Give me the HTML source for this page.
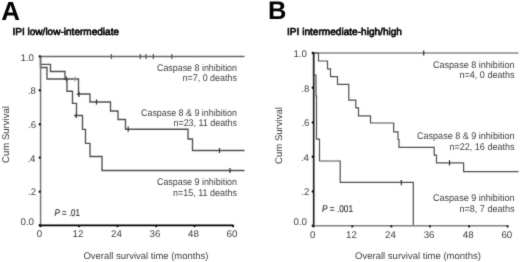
<!DOCTYPE html>
<html><head><meta charset="utf-8"><style>
html,body{margin:0;padding:0;background:#fff;}
svg{display:block;font-family:"Liberation Sans", sans-serif;will-change:transform;text-rendering:geometricPrecision;}
</style></head><body>
<svg width="520" height="262" viewBox="0 0 520 262">
<defs><filter id="sf" x="0" y="0" width="520" height="262" filterUnits="userSpaceOnUse"><feConvolveMatrix order="3" kernelMatrix="0.02 0.08 0.02 0.08 0.6 0.08 0.02 0.08 0.02" edgeMode="none"/></filter></defs>
<rect width="520" height="262" fill="#fff"/>
<g filter="url(#sf)">
<path d="M40.5 56.5 H244.5" fill="none" stroke="#666" stroke-width="1.35"/>
<path d="M111.3 53.9 V59.1" stroke="#555" stroke-width="1.25"/>
<path d="M140.3 53.9 V59.1" stroke="#555" stroke-width="1.25"/>
<path d="M146 53.9 V59.1" stroke="#555" stroke-width="1.25"/>
<path d="M153.3 53.9 V59.1" stroke="#555" stroke-width="1.25"/>
<path d="M171.8 53.9 V59.1" stroke="#555" stroke-width="1.25"/>
<path d="M40.5 56.5 V64.3 H50.5 V71.5 H65 V79 H78.5 V94 H90 V102 H110.5 V111 H118 V119.5 H125.5 V129.2 H188 V139 H192.5 V150.5 H244.5" fill="none" stroke="#505050" stroke-width="1.35"/>
<path d="M66.5 76.4 V81.6 M64.2 79 H66.5" stroke="#333" stroke-width="1.25"/>
<path d="M75 76.4 V81.6" stroke="#999" stroke-width="1.25"/>
<path d="M79 91.7 V96.89999999999999 M76.7 94.3 H79" stroke="#333" stroke-width="1.25"/>
<path d="M96.5 99.4 V104.6" stroke="#333" stroke-width="1.25"/>
<path d="M128.2 126.6 V131.79999999999998" stroke="#333" stroke-width="1.25"/>
<path d="M219.5 147.9 V153.1" stroke="#333" stroke-width="1.25"/>
<path d="M40.5 56.5 V67.5 H47 V79 H67 V91.2 H72.5 V103.3 H76.5 V115.5 H82.5 V129.3 H85.5 V143.3 H90 V156.5 H102 V170.5 H244.5" fill="none" stroke="#505050" stroke-width="1.35"/>
<path d="M76.3 112.9 V118.1 M74.0 115.5 H76.3" stroke="#333" stroke-width="1.25"/>
<path d="M230 167.9 V173.1" stroke="#333" stroke-width="1.25"/>
<path d="M40.6 55.7 V225.9" fill="none" stroke="#777" stroke-width="1.5"/>
<path d="M40.1 225.4 H233.5" fill="none" stroke="#000" stroke-width="1.7"/>
<rect x="38.6" y="55.3" width="2.4" height="2.4" rx="1.1" fill="#111"/>
<rect x="38.6" y="89.1" width="2.4" height="2.4" rx="1.1" fill="#111"/>
<rect x="38.6" y="123.1" width="2.4" height="2.4" rx="1.1" fill="#111"/>
<rect x="38.6" y="156.4" width="2.4" height="2.4" rx="1.1" fill="#111"/>
<rect x="38.6" y="190.5" width="2.4" height="2.4" rx="1.1" fill="#111"/>
<rect x="38.6" y="224.0" width="2.4" height="2.4" rx="1.1" fill="#111"/>
<rect x="39.4" y="225.0" width="2.3" height="2.3" rx="1.1" fill="#111"/>
<rect x="77.9" y="225.0" width="2.3" height="2.3" rx="1.1" fill="#111"/>
<rect x="116.4" y="225.0" width="2.3" height="2.3" rx="1.1" fill="#111"/>
<rect x="154.9" y="225.0" width="2.3" height="2.3" rx="1.1" fill="#111"/>
<rect x="193.4" y="225.0" width="2.3" height="2.3" rx="1.1" fill="#111"/>
<rect x="231.9" y="225.0" width="2.3" height="2.3" rx="1.1" fill="#111"/>
<path d="M313.5 53 H518.5" fill="none" stroke="#505050" stroke-width="1.2"/>
<path d="M423.7 50.4 V55.6" stroke="#333" stroke-width="1.25"/>
<path d="M313.5 53 H318.5 V61 H327.5 V68.8 H330.5 V76.7 H337.5 V84.3 H348.8 V100.2 H355.8 V107.8 H358.5 V115.9 H370.5 V123 H393.7 V131.8 H398 V139.5 H399 V147.3 H434.2 V155.2 H436.5 V162.8 H463.6 V171.6 H518.5" fill="none" stroke="#505050" stroke-width="1.2"/>
<path d="M449.5 160.20000000000002 V165.4" stroke="#333" stroke-width="1.25"/>
<path d="M313.5 53 V75 H316 V96 H316.5 V139.2 H319.5 V161 H340.2 V182.4 H413.3 V225.5" fill="none" stroke="#505050" stroke-width="1.2"/>
<path d="M401.3 180.0 V185.2" stroke="#333" stroke-width="1.25"/>
<path d="M313.7 52.2 V226.2" fill="none" stroke="#222" stroke-width="1.7"/>
<path d="M313.2 225.7 H508.0" fill="none" stroke="#808080" stroke-width="1.5"/>
<rect x="311.6" y="51.8" width="2.4" height="2.4" rx="1.1" fill="#111"/>
<rect x="311.6" y="86.55" width="2.4" height="2.4" rx="1.1" fill="#111"/>
<rect x="311.6" y="121.3" width="2.4" height="2.4" rx="1.1" fill="#111"/>
<rect x="311.6" y="155.60000000000002" width="2.4" height="2.4" rx="1.1" fill="#111"/>
<rect x="311.6" y="190.3" width="2.4" height="2.4" rx="1.1" fill="#111"/>
<rect x="311.6" y="224.4" width="2.4" height="2.4" rx="1.1" fill="#111"/>
<rect x="312.4" y="225.29999999999998" width="2.3" height="2.3" rx="1.1" fill="#111"/>
<rect x="351.09999999999997" y="225.29999999999998" width="2.3" height="2.3" rx="1.1" fill="#111"/>
<rect x="390.2" y="225.29999999999998" width="2.3" height="2.3" rx="1.1" fill="#111"/>
<rect x="428.79999999999995" y="225.29999999999998" width="2.3" height="2.3" rx="1.1" fill="#111"/>
<rect x="467.9" y="225.29999999999998" width="2.3" height="2.3" rx="1.1" fill="#111"/>
<rect x="506.5" y="225.29999999999998" width="2.3" height="2.3" rx="1.1" fill="#111"/>
<text x="1.2" y="19.6" font-size="26" text-anchor="start" font-weight="bold" font-style="normal" fill="#000" >A</text>
<text x="268" y="19.0" font-size="25.5" text-anchor="start" font-weight="bold" font-style="normal" fill="#000" >B</text>
<text x="12.5" y="35" font-size="10" text-anchor="start" font-weight="normal" font-style="normal" fill="#000" textLength="106.5" lengthAdjust="spacingAndGlyphs" stroke="#000" stroke-width="0.6">IPI low/low-intermediate</text>
<text x="287" y="34.6" font-size="10" text-anchor="start" font-weight="normal" font-style="normal" fill="#000" textLength="115" lengthAdjust="spacingAndGlyphs" stroke="#000" stroke-width="0.6">IPI intermediate-high/high</text>
<text x="34" y="60.75" font-size="9.7" text-anchor="end" font-weight="normal" font-style="normal" fill="#404040" >1.0</text>
<text x="36" y="93.75" font-size="9.7" text-anchor="end" font-weight="normal" font-style="normal" fill="#404040" >.8</text>
<text x="36.2" y="127.75" font-size="9.7" text-anchor="end" font-weight="normal" font-style="normal" fill="#404040" >.6</text>
<text x="35.5" y="161.75" font-size="9.7" text-anchor="end" font-weight="normal" font-style="normal" fill="#404040" >.4</text>
<text x="36.2" y="195" font-size="9.7" text-anchor="end" font-weight="normal" font-style="normal" fill="#404040" >.2</text>
<text x="34" y="224.75" font-size="9.7" text-anchor="end" font-weight="normal" font-style="normal" fill="#404040" >0.0</text>
<text x="307" y="56.75" font-size="9.7" text-anchor="end" font-weight="normal" font-style="normal" fill="#404040" >1.0</text>
<text x="309.3" y="91.75" font-size="9.7" text-anchor="end" font-weight="normal" font-style="normal" fill="#404040" >.8</text>
<text x="309.5" y="125.75" font-size="9.7" text-anchor="end" font-weight="normal" font-style="normal" fill="#404040" >.6</text>
<text x="309" y="160.75" font-size="9.7" text-anchor="end" font-weight="normal" font-style="normal" fill="#404040" >.4</text>
<text x="309.3" y="194.75" font-size="9.7" text-anchor="end" font-weight="normal" font-style="normal" fill="#404040" >.2</text>
<text x="307" y="224.75" font-size="9.7" text-anchor="end" font-weight="normal" font-style="normal" fill="#404040" >0.0</text>
<text x="39.4" y="237.1" font-size="9.7" text-anchor="middle" font-weight="normal" font-style="normal" fill="#404040" >0</text>
<text x="77.9" y="237.1" font-size="9.7" text-anchor="middle" font-weight="normal" font-style="normal" fill="#404040" >12</text>
<text x="116.4" y="237.1" font-size="9.7" text-anchor="middle" font-weight="normal" font-style="normal" fill="#404040" >24</text>
<text x="154.9" y="237.1" font-size="9.7" text-anchor="middle" font-weight="normal" font-style="normal" fill="#404040" >36</text>
<text x="193.4" y="237.1" font-size="9.7" text-anchor="middle" font-weight="normal" font-style="normal" fill="#404040" >48</text>
<text x="231.9" y="237.1" font-size="9.7" text-anchor="middle" font-weight="normal" font-style="normal" fill="#404040" >60</text>
<text x="312.7" y="238" font-size="9.7" text-anchor="middle" font-weight="normal" font-style="normal" fill="#404040" >0</text>
<text x="351.4" y="238" font-size="9.7" text-anchor="middle" font-weight="normal" font-style="normal" fill="#404040" >12</text>
<text x="390.5" y="238" font-size="9.7" text-anchor="middle" font-weight="normal" font-style="normal" fill="#404040" >24</text>
<text x="429.09999999999997" y="238" font-size="9.7" text-anchor="middle" font-weight="normal" font-style="normal" fill="#404040" >36</text>
<text x="468.2" y="238" font-size="9.7" text-anchor="middle" font-weight="normal" font-style="normal" fill="#404040" >48</text>
<text x="506.8" y="238" font-size="9.7" text-anchor="middle" font-weight="normal" font-style="normal" fill="#404040" >60</text>
<text x="83.5" y="258.5" font-size="9.7" text-anchor="start" font-weight="normal" font-style="normal" fill="#404040" textLength="125" lengthAdjust="spacingAndGlyphs" >Overall survival time (months)</text>
<text x="355" y="259" font-size="9.7" text-anchor="start" font-weight="normal" font-style="normal" fill="#404040" textLength="126" lengthAdjust="spacingAndGlyphs" >Overall survival time (months)</text>
<text x="8.5" y="163" font-size="9.7" text-anchor="start" font-weight="normal" font-style="normal" fill="#404040" textLength="57" lengthAdjust="spacingAndGlyphs" transform="rotate(-90 8.5 163)">Cum Survival</text>
<text x="281.5" y="164" font-size="9.7" text-anchor="start" font-weight="normal" font-style="normal" fill="#404040" textLength="57" lengthAdjust="spacingAndGlyphs" transform="rotate(-90 281.5 164)">Cum Survival</text>
<text x="237" y="70.75" font-size="9.7" text-anchor="end" font-weight="normal" font-style="normal" fill="#404040" textLength="80" lengthAdjust="spacingAndGlyphs" >Caspase 8 inhibition</text>
<text x="237" y="80.6" font-size="9.7" text-anchor="end" font-weight="normal" font-style="normal" fill="#404040" textLength="54.5" lengthAdjust="spacingAndGlyphs" >n=7, 0 deaths</text>
<text x="237" y="115.9" font-size="9.7" text-anchor="end" font-weight="normal" font-style="normal" fill="#404040" textLength="96" lengthAdjust="spacingAndGlyphs" >Caspase 8 &amp; 9 inhibition</text>
<text x="237" y="125.8" font-size="9.7" text-anchor="end" font-weight="normal" font-style="normal" fill="#404040" textLength="63.5" lengthAdjust="spacingAndGlyphs" >n=23, 11 deaths</text>
<text x="237" y="184.8" font-size="9.7" text-anchor="end" font-weight="normal" font-style="normal" fill="#404040" textLength="80" lengthAdjust="spacingAndGlyphs" >Caspase 9 inhibition</text>
<text x="237" y="196" font-size="9.7" text-anchor="end" font-weight="normal" font-style="normal" fill="#404040" textLength="64" lengthAdjust="spacingAndGlyphs" >n=15, 11 deaths</text>
<text x="514.5" y="67.9" font-size="9.7" text-anchor="end" font-weight="normal" font-style="normal" fill="#404040" textLength="81.5" lengthAdjust="spacingAndGlyphs" >Caspase 8 inhibition</text>
<text x="514.5" y="78.2" font-size="9.7" text-anchor="end" font-weight="normal" font-style="normal" fill="#404040" textLength="55" lengthAdjust="spacingAndGlyphs" >n=4, 0 deaths</text>
<text x="514.5" y="139.4" font-size="9.7" text-anchor="end" font-weight="normal" font-style="normal" fill="#404040" textLength="97.5" lengthAdjust="spacingAndGlyphs" >Caspase 8 &amp; 9 inhibition</text>
<text x="514.5" y="150.1" font-size="9.7" text-anchor="end" font-weight="normal" font-style="normal" fill="#404040" textLength="65" lengthAdjust="spacingAndGlyphs" >n=22, 16 deaths</text>
<text x="514.5" y="201.2" font-size="9.7" text-anchor="end" font-weight="normal" font-style="normal" fill="#404040" textLength="81.5" lengthAdjust="spacingAndGlyphs" >Caspase 9 inhibition</text>
<text x="514.5" y="211.5" font-size="9.7" text-anchor="end" font-weight="normal" font-style="normal" fill="#404040" textLength="55" lengthAdjust="spacingAndGlyphs" >n=8, 7 deaths</text>
<text x="54.5" y="215.8" font-size="9.7" fill="#222" stroke="#222" stroke-width="0.08" textLength="25.5" lengthAdjust="spacingAndGlyphs"><tspan font-style="italic">P</tspan> = .01</text>
<text x="322" y="211.8" font-size="9.7" fill="#222" stroke="#222" stroke-width="0.08" textLength="31" lengthAdjust="spacingAndGlyphs"><tspan font-style="italic">P</tspan> = .001</text>
</g>
</svg>
</body></html>
